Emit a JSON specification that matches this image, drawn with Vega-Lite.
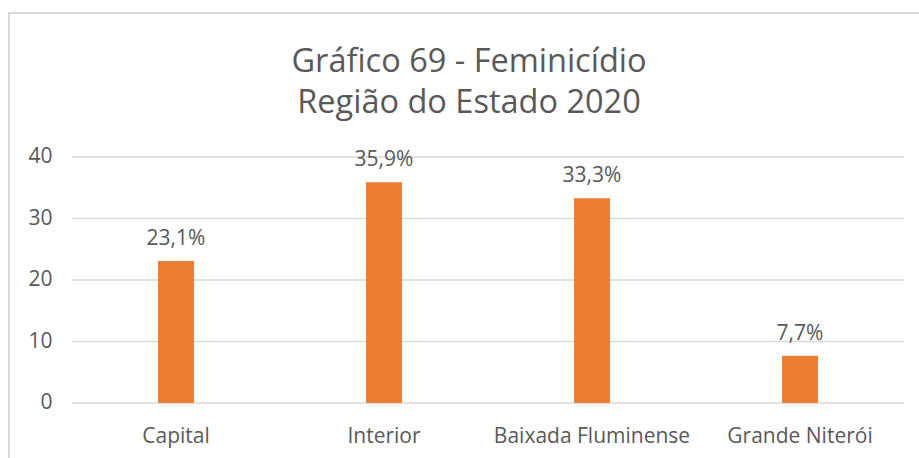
{
  "$schema": "https://vega.github.io/schema/vega-lite/v6.json",
  "width": 920,
  "height": 455,
  "autosize": {"type": "none"},
  "padding": {"left": 9, "top": 13, "right": 0, "bottom": 0},
  "background": "white",
  "title": {
    "text": ["Gráfico 69 - Feminicídio", "Região do Estado 2020"],
    "font": "Open Sans",
    "fontSize": 32.5,
    "fontWeight": "normal",
    "color": "#595959",
    "lineHeight": 41,
    "anchor": "middle",
    "frame": "group",
    "offset": -106
  },
  "layer": [
    {
      "data": {"values": [{"g": 0}, {"g": 10}, {"g": 20}, {"g": 30}, {"g": 40}]},
      "mark": {"type": "rule", "color": "#d9d9d9", "strokeWidth": 1.5},
      "encoding": {
        "x": {"datum": "Capital", "bandPosition": 0},
        "x2": {"datum": "Grande Niterói", "bandPosition": 1},
        "y": {"field": "g", "type": "quantitative"}
      }
    },
    {
      "data": {
        "values": [
          {"regiao": "Capital", "pct": 23.1},
          {"regiao": "Interior", "pct": 35.9},
          {"regiao": "Baixada Fluminense", "pct": 33.3},
          {"regiao": "Grande Niterói", "pct": 7.7}
        ]
      },
      "transform": [
        {"calculate": "replace(format(datum.pct, '.1f'), '.', ',') + '%'", "as": "rotulo"}
      ],
      "encoding": {
        "x": {"field": "regiao", "type": "nominal", "sort": null},
        "y": {"field": "pct", "type": "quantitative"}
      },
      "layer": [
        {"mark": {"type": "bar", "color": "#ED7D31", "size": 36}},
        {
          "mark": {
            "type": "text",
            "font": "Open Sans",
            "fontSize": 21,
            "color": "#595959",
            "baseline": "alphabetic",
            "dy": -16
          },
          "encoding": {"text": {"field": "rotulo"}}
        }
      ]
    }
  ],
  "encoding": {
    "x": {
      "type": "nominal",
      "sort": ["Capital", "Interior", "Baixada Fluminense", "Grande Niterói"],
      "scale": {
        "type": "band",
        "domain": ["Capital", "Interior", "Baixada Fluminense", "Grande Niterói"],
        "paddingInner": 0,
        "paddingOuter": 0.2115,
        "align": 0.716
      },
      "title": null,
      "axis": {
        "labelAngle": 0,
        "labelFont": "Open Sans",
        "labelFontSize": 21,
        "labelColor": "#595959",
        "labelPadding": 22,
        "labelLimit": 0,
        "domain": false,
        "ticks": false,
        "grid": false,
        "offset": -65
      }
    },
    "y": {
      "type": "quantitative",
      "scale": {"domain": [-10.57, 63.41], "nice": false, "zero": false},
      "title": null,
      "axis": {
        "values": [0, 10, 20, 30, 40],
        "labelFont": "Open Sans",
        "labelFontSize": 21,
        "labelColor": "#595959",
        "labelPadding": 20,
        "domain": false,
        "ticks": false,
        "grid": false,
        "offset": -63
      }
    }
  },
  "config": {"view": {"stroke": "#d9d9d9", "strokeWidth": 2}}
}
